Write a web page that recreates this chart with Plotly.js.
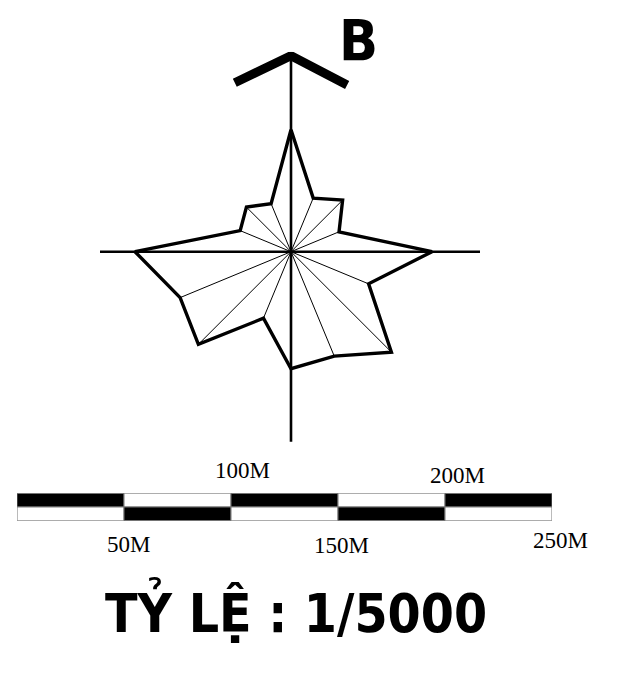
<!DOCTYPE html>
<html>
<head>
<meta charset="utf-8">
<script src="https://cdn.plot.ly/plotly-3.0.1.min.js"></script>
<style>html,body{margin:0;padding:0;background:#fff;}#chart{width:637px;height:673px;}</style>
</head>
<body>
<div id="chart"></div>
<script>
// ---- wind rose data (16 directions, relative frequency) ----
var directions = ['N','NNE','NE','ENE','E','ESE','SE','SSE','S','SSW','SW','WSW','W','WNW','NW','NNW'];
var directionAngles = [0,22.5,45,67.5,90,112.5,135,157.5,180,202.5,225,247.5,270,292.5,315,337.5];
var frequencies = [12.2,5.8,7.3,5.2,14.1,8.4,14.2,11.3,11.7,7.2,13.1,12.0,15.6,5.5,6.3,5.2];

// compass cross arms (N,E,S,W) and north arrow
var crossAngles = [0,90,180,270];
var crossLengths = [19.6,18.9,19.0,19.1];
var arrowAngles = [341.6,0,18.6];
var arrowLengths = [17.8,19.6,17.6];
var northLabel = 'B';

// ---- scale bar data ----
var scaleStarts = [0,50,100,150,200];
var scaleSegment = 50;
var scaleTickValues = [50,100,150,200,250];
var scaleTickLabels = ['50M','100M','150M','200M','250M'];
var scaleTitle = 'TỶ LỆ : 1/5000';

// ---- traces ----
var traces = [];
var crossR = [], crossT = [];
for (var i = 0; i < crossAngles.length; i++) {
  crossR.push(0, crossLengths[i], null);
  crossT.push(crossAngles[i], crossAngles[i], null);
}
traces.push({type:'scatterpolar', r:crossR, theta:crossT, mode:'lines',
  line:{color:'#000', width:2.6}, hoverinfo:'skip', cliponaxis:false, connectgaps:false});
var spR = [], spT = [];
for (var j = 0; j < directions.length; j++) {
  spR.push(0, frequencies[j], null);
  spT.push(directionAngles[j], directionAngles[j], null);
}
traces.push({type:'scatterpolar', r:spR, theta:spT, mode:'lines',
  line:{color:'#000', width:1}, hoverinfo:'skip', cliponaxis:false, connectgaps:false});
traces.push({type:'scatterpolar', r:frequencies.concat([frequencies[0]]),
  theta:directionAngles.concat([directionAngles[0]]), mode:'lines',
  line:{color:'#000', width:3.4}, cliponaxis:false, name:'rose'});
traces.push({type:'scatterpolar', r:arrowLengths, theta:arrowAngles, mode:'lines',
  line:{color:'#000', width:9}, cliponaxis:false, hoverinfo:'skip'});

// scale bar
var barX = [], barBase = [], barY = [], barColor = [];
for (var k = 0; k < scaleStarts.length; k++) {
  barX.push(scaleSegment); barBase.push(scaleStarts[k]); barY.push(1);
  barColor.push(k % 2 === 0 ? '#000' : '#fff');
}
for (var k2 = 0; k2 < scaleStarts.length; k2++) {
  barX.push(scaleSegment); barBase.push(scaleStarts[k2]); barY.push(0);
  barColor.push(k2 % 2 === 0 ? '#fff' : '#000');
}
traces.push({type:'bar', orientation:'h', x:barX, base:barBase, y:barY,
  xaxis:'x', yaxis:'y', marker:{color:barColor, line:{color:'#777', width:1}},
  hoverinfo:'skip', width:1});

// annotations
var labelPixelY = [544, 470, 545.5, 475, 540];
var labelShift = [4, 11, 3, 12, 8];
var annotations = [];
for (var m = 0; m < scaleTickValues.length; m++) {
  annotations.push({xref:'x', yref:'paper', x:scaleTickValues[m], y:1 - labelPixelY[m]/673,
    yanchor:'middle', text:scaleTickLabels[m], showarrow:false, xshift:labelShift[m],
    font:{family:'Liberation Serif, Times New Roman, serif', size:23, color:'#000'}});
}
annotations.push({xref:'paper', yref:'paper', x:296/637, y:1-610/673, xanchor:'center', yanchor:'middle',
  text:scaleTitle, showarrow:false,
  font:{family:'DejaVu Sans Condensed, DejaVu Sans', size:53, color:'#000', weight:'bold'}});
annotations.push({xref:'paper', yref:'paper', x:358/637, y:1-41/673, xanchor:'center', yanchor:'middle',
  text:northLabel, showarrow:false,
  font:{family:'DejaVu Sans Condensed, DejaVu Sans', size:57, color:'#000', weight:'bold'}});

var layout = {
  width:637, height:673, margin:{l:0,r:0,t:0,b:0},
  paper_bgcolor:'#fff', plot_bgcolor:'rgba(0,0,0,0)', showlegend:false,
  polar:{
    domain:{x:[91/637, 491/637], y:[221.3/673, 621.3/673]},
    bgcolor:'rgba(0,0,0,0)',
    radialaxis:{range:[0,20], visible:false, showgrid:false, showline:false},
    angularaxis:{direction:'clockwise', rotation:90, visible:false, showgrid:false, showline:false}
  },
  xaxis:{domain:[17/637, 552/637], range:[0,250], showgrid:false, zeroline:false,
    showticklabels:false, showline:false, ticks:'', fixedrange:true},
  yaxis:{domain:[(673-520.7)/673, (673-493.3)/673], range:[-0.5,1.5], showgrid:false,
    zeroline:false, showticklabels:false, showline:false, ticks:'', fixedrange:true},
  bargap:0,
  annotations:annotations
};

Plotly.newPlot('chart', traces, layout, {displayModeBar:false, staticPlot:true});
</script>
</body>
</html>
